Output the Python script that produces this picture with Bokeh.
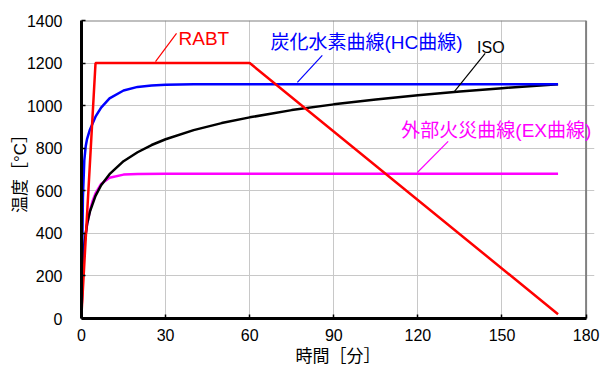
from bokeh.plotting import figure
from bokeh.models import FixedTicker, Label, ColumnDataSource
from bokeh.embed import file_html
from bokeh.resources import INLINE

# ---- data ----
rabt_t = [0, 5, 60, 170]
rabt_T = [20, 1200, 1200, 20]

hc_t = [0, 0.5, 1, 1.5, 2, 3, 5, 7, 10, 15, 20, 25, 30, 40, 170]
hc_T = [20, 568, 743, 809, 844, 887, 948, 991, 1034, 1071, 1088, 1095, 1098, 1100, 1100]

iso_t = [0, 0.5, 1, 2, 3, 5, 7, 10, 15, 20, 25, 30, 40, 50, 60, 75, 90, 105, 120, 135, 150, 170]
iso_T = [20, 261, 349, 445, 502, 576, 626, 678, 739, 781, 815, 842, 885, 918, 945, 979, 1006, 1029, 1049, 1067, 1082, 1101]

ex_t = [0, 0.5, 1, 2, 3, 4, 5, 7, 10, 15, 20, 30, 170]
ex_T = [20, 263, 346, 441, 506, 554, 588, 632, 661, 676, 679, 680, 680]

x_ticks = [0, 30, 60, 90, 120, 150, 180]
y_ticks = [0, 200, 400, 600, 800, 1000, 1200, 1400]
x_max = 180
y_max = 1400

labels = ["RABT", "炭化水素曲線(HC曲線)", "ISO", "外部火災曲線(EX曲線)"]
label_colors = ["#ff0000", "#0000ff", "#000000", "#ff00ff"]

LAT = "Liberation Sans, Noto Sans CJK JP"

# frame extends a little past x=180 so the EX label can overhang the border
p = figure(width=600, height=369, output_backend="svg", toolbar_location=None,
           x_range=(0, 183), y_range=(0, 1400),
           min_border_left=81, min_border_right=6, min_border_top=20, min_border_bottom=51)

p.background_fill_color = "white"
p.border_fill_color = "white"
p.outline_line_color = None

p.xgrid.ticker = FixedTicker(ticks=x_ticks)
p.ygrid.ticker = FixedTicker(ticks=y_ticks)
p.grid.grid_line_color = "#c8c8c8"
p.grid.grid_line_width = 1
p.ygrid.bounds = (0, x_max)

for ax in (p.xaxis[0], p.yaxis[0]):
    ax.axis_line_color = "black"
    ax.axis_line_width = 3
    ax.major_tick_in = 4
    ax.major_tick_out = 0
    ax.major_tick_line_color = "black"
    ax.major_tick_line_width = 1.5
    ax.minor_tick_line_color = None
    ax.major_label_text_font = LAT
    ax.major_label_text_font_size = "16px"
    ax.major_label_text_color = "black"
    ax.axis_label_text_font = LAT
    ax.axis_label_text_font_size = "17px"
    ax.axis_label_text_font_style = "normal"
    ax.axis_label_text_color = "black"

p.xaxis.ticker = FixedTicker(ticks=x_ticks)
p.yaxis.ticker = FixedTicker(ticks=y_ticks)
p.xaxis.bounds = (0, x_max)
p.xaxis.major_label_standoff = 10
p.yaxis.major_label_standoff = 19
p.xaxis.axis_label = "時間［分］"
p.yaxis.axis_label = "温度［°C］"
p.xaxis.axis_label_standoff = 3
p.yaxis.axis_label_standoff = -6

# gray plot border on top and right
p.segment(x0=[0, x_max], y0=[y_max, 0], x1=[x_max, x_max], y1=[y_max, y_max],
          line_color="#808080", line_width=2)

p.line(ex_t, ex_T, line_color="#ff00ff", line_width=2.5)
p.line(iso_t, iso_T, line_color="#000000", line_width=2.5)
p.line(hc_t, hc_T, line_color="#0000ff", line_width=2.5)
p.line(rabt_t, rabt_T, line_color="#ff0000", line_width=2.5)

# leader lines
lead = ColumnDataSource(dict(
    x0=[26.4, 77.0, 133.0, 119.8],
    y0=[1207, 1109, 1066, 686],
    x1=[33.9, 85.9, 144.0, 130.8],
    y1=[1339, 1236, 1245, 832],
    c=label_colors))
p.segment(x0="x0", y0="y0", x1="x1", y1="y1", line_color="c", line_width=1.2, source=lead)

lab_x = [34.6, 67.4, 141.1, 114.1]
lab_y = [1315, 1297, 1273, 883]
lab_sz = ["19px", "19px", "16px", "19px"]
for t, c, x, y, s in zip(labels, label_colors, lab_x, lab_y, lab_sz):
    p.add_layout(Label(x=x, y=y, text=t, text_color=c, text_font=LAT,
                       text_font_size=s, text_align="left", text_baseline="middle"))

open("out.html", "w").write(file_html(p, INLINE))
